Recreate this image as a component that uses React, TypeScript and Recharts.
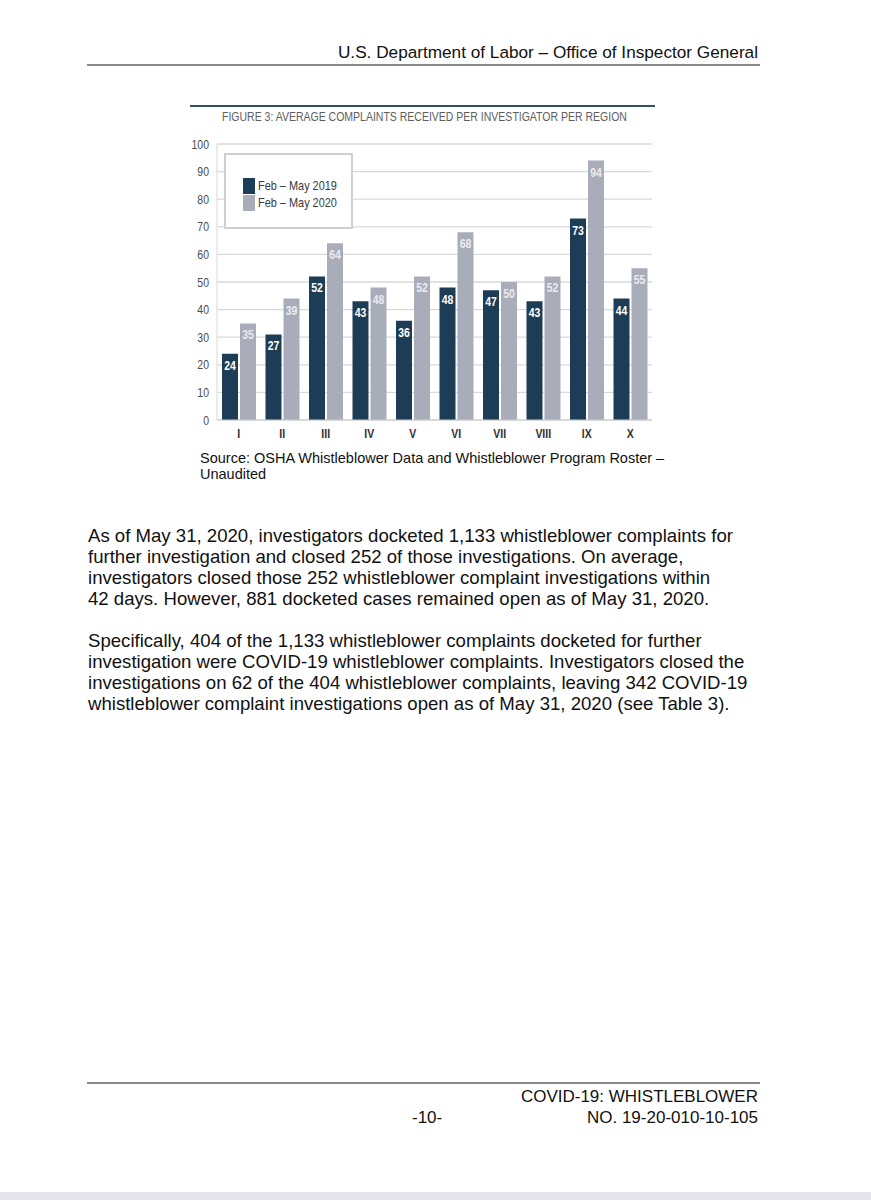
import React from 'react';
import { BarChart, Bar, XAxis, YAxis, CartesianGrid, Legend, LabelList } from 'recharts';

const regions = ['I', 'II', 'III', 'IV', 'V', 'VI', 'VII', 'VIII', 'IX', 'X'];
// bar heights as drawn in the figure
const bars2019 = [24, 31, 52, 43, 36, 48, 47, 43, 73, 44];
const bars2020 = [35, 44, 64, 48, 52, 68, 50, 52, 94, 55];
// values printed on the bars
const labels2019 = [24, 27, 52, 43, 36, 48, 47, 43, 73, 44];
const labels2020 = [35, 39, 64, 48, 52, 68, 50, 52, 94, 55];
const yTicks = [0, 10, 20, 30, 40, 50, 60, 70, 80, 90, 100];
const seriesNames = ['Feb – May 2019', 'Feb – May 2020'];

const data = regions.map((r, i) => ({
  region: r,
  v2019: bars2019[i],
  v2020: bars2020[i],
  l2019: labels2019[i],
  l2020: labels2020[i],
}));

const DARK = '#1c3d55';
const LIGHT = '#a9adb9';
const FONT = "'Liberation Sans', Arial, sans-serif";
const SQUEEZE = 0.84;

const YTick = (props: any) => {
  const { x, y, payload } = props;
  return (
    <text
      transform={`translate(${x},${y}) scale(${SQUEEZE},1)`}
      textAnchor="end"
      dy="0.36em"
      fill="#4a4a4a"
      fontSize={12.5}
      fontFamily={FONT}
    >
      {payload.value}
    </text>
  );
};

const XTick = (props: any) => {
  const { x, y, payload } = props;
  return (
    <text
      transform={`translate(${x},${y}) scale(${SQUEEZE},1)`}
      textAnchor="middle"
      dy={10}
      fill="#333"
      fontSize={12.5}
      fontWeight="bold"
      fontFamily={FONT}
    >
      {payload.value}
    </text>
  );
};

const makeBarLabel = (color: string) => (props: any) => {
  const { x, y, width, value } = props;
  const cx = Number(x) + Number(width) / 2;
  const ty = Number(y) + 16;
  return (
    <text
      transform={`translate(${cx},${ty}) scale(${SQUEEZE},1)`}
      textAnchor="middle"
      fill={color}
      fontSize={12.5}
      fontWeight="bold"
      fontFamily={FONT}
    >
      {value}
    </text>
  );
};

const renderLegend = (props: any) => {
  const { payload } = props;
  return (
    <div
      style={{
        width: 125,
        height: 72,
        border: '2px solid #cfcfcf',
        background: '#fff',
        boxSizing: 'content-box',
        fontFamily: FONT,
        fontSize: 13,
        color: '#3a3a3a',
      }}
    >
      <div style={{ paddingTop: 22, paddingLeft: 17 }}>
        {(payload || []).map((p: any, i: number) => (
          <div key={i} style={{ display: 'flex', alignItems: 'center', height: 17 }}>
            <span style={{ display: 'inline-block', width: 12, height: 16, background: p.color, marginRight: 3, flex: 'none' }} />
            <span style={{ display: 'inline-block', transform: `scaleX(${SQUEEZE})`, transformOrigin: 'left center', whiteSpace: 'nowrap' }}>
              {p.value}
            </span>
          </div>
        ))}
      </div>
    </div>
  );
};

export default function App() {
  const textStyle: React.CSSProperties = {
    position: 'absolute',
    whiteSpace: 'nowrap',
    fontFamily: FONT,
    color: '#111',
  };
  const bodyLines1 = [
    'As of May 31, 2020, investigators docketed 1,133 whistleblower complaints for',
    'further investigation and closed 252 of those investigations. On average,',
    'investigators closed those 252 whistleblower complaint investigations within',
    '42 days. However, 881 docketed cases remained open as of May 31, 2020.',
  ];
  const bodyLines2 = [
    'Specifically, 404 of the 1,133 whistleblower complaints docketed for further',
    'investigation were COVID-19 whistleblower complaints. Investigators closed the',
    'investigations on 62 of the 404 whistleblower complaints, leaving 342 COVID-19',
    'whistleblower complaint investigations open as of May 31, 2020 (see Table 3).',
  ];
  return (
    <div style={{ position: 'absolute', left: 0, top: 0, width: 871, height: 1200, background: '#fff', overflow: 'hidden' }}>
      {/* header */}
      <div style={{ ...textStyle, right: 113, top: 42, fontSize: 17.2, textAlign: 'right' }}>
        U.S. Department of Labor – Office of Inspector General
      </div>
      <div style={{ position: 'absolute', left: 87, top: 64, width: 673, height: 2, background: '#8a8a8a' }} />

      {/* figure top rule + title */}
      <div style={{ position: 'absolute', left: 190, top: 105, width: 465, height: 2, background: '#34505f' }} />
      <div
        style={{
          ...textStyle,
          left: 222,
          top: 110,
          fontSize: 12.5,
          color: '#5e5e5e',
          transform: `scaleX(${SQUEEZE})`,
          transformOrigin: 'left top',
        }}
      >
        FIGURE 3: AVERAGE COMPLAINTS RECEIVED PER INVESTIGATOR PER REGION
      </div>

      <div style={{ position: 'absolute', left: 180, top: 130 }}>
        <BarChart
          width={480}
          height={320}
          data={data}
          margin={{ top: 14, right: 8, bottom: 0, left: 0 }}
          barSize={16}
          barGap={2}
        >
          <CartesianGrid vertical={false} stroke="#d9d9d9" strokeWidth={1.3} />
          <XAxis dataKey="region" height={30} tickLine={false} axisLine={{ stroke: '#cfcfcf' }} tick={<XTick />} />
          <YAxis
            width={37}
            domain={[0, 100]}
            ticks={yTicks}
            interval={0}
            tickLine={false}
            axisLine={{ stroke: '#d9d9d9' }}
            tick={<YTick />}
          />
          <Legend
            layout="vertical"
            align="center"
            verticalAlign="middle"
            content={renderLegend}
            wrapperStyle={{ left: 44, top: 23, width: 129, height: 76 }}
          />
          <Bar dataKey="v2019" name={seriesNames[0]} fill={DARK} isAnimationActive={false}>
            <LabelList dataKey="l2019" content={makeBarLabel('#ffffff')} />
          </Bar>
          <Bar dataKey="v2020" name={seriesNames[1]} fill={LIGHT} isAnimationActive={false}>
            <LabelList dataKey="l2020" content={makeBarLabel('#ececf0')} />
          </Bar>
        </BarChart>
      </div>

      {/* source */}
      <div style={{ ...textStyle, left: 200, top: 450, fontSize: 14.5, lineHeight: '16px' }}>
        Source: OSHA Whistleblower Data and Whistleblower Program Roster –<br />Unaudited
      </div>

      {/* body text */}
      <div style={{ ...textStyle, left: 88, top: 525, fontSize: 18.6, lineHeight: '21px' }}>
        {bodyLines1.map((l, i) => (
          <div key={i}>{l}</div>
        ))}
      </div>
      <div style={{ ...textStyle, left: 88, top: 630, fontSize: 18.6, lineHeight: '21px' }}>
        {bodyLines2.map((l, i) => (
          <div key={i}>{l}</div>
        ))}
      </div>

      {/* footer */}
      <div style={{ position: 'absolute', left: 87, top: 1082, width: 673, height: 2, background: '#8a8a8a' }} />
      <div style={{ ...textStyle, right: 113, top: 1086, fontSize: 17, textAlign: 'right', lineHeight: '21px' }}>
        COVID-19: WHISTLEBLOWER<br />NO. 19-20-010-10-105
      </div>
      <div style={{ ...textStyle, left: 412, top: 1107, fontSize: 17, lineHeight: '21px' }}>-10-</div>

      <div style={{ position: 'absolute', left: 0, top: 1192, width: 871, height: 8, background: '#e7e5eb' }} />
    </div>
  );
}
